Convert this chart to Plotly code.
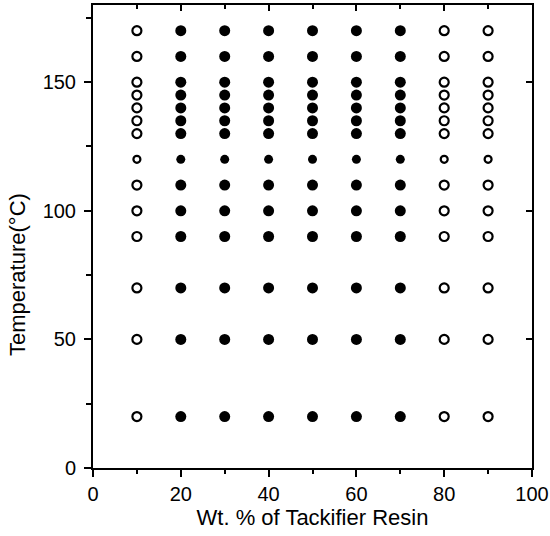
import plotly.graph_objects as go

temps = [20, 50, 70, 90, 100, 110, 120, 130, 135, 140, 145, 150, 160, 170]
filled_wt = [20, 30, 40, 50, 60, 70]
open_wt = [10, 80, 90]
x_ticks = [0, 20, 40, 60, 80, 100]
y_ticks = [0, 50, 100, 150]

fx, fy, ox, oy = [], [], [], []
for w in filled_wt:
    for t in temps:
        fx.append(w); fy.append(t)
for w in open_wt:
    for t in temps:
        ox.append(w); oy.append(t)

fsize = [9 if t == 120 else 11 for t in fy]
osize = [7 if t == 120 else 9 for t in oy]

fig = go.Figure()
fig.add_trace(go.Scatter(x=fx, y=fy, mode="markers",
                         marker=dict(symbol="circle", size=fsize, color="black", opacity=1,
                                     line=dict(width=0)),
                         showlegend=False))
fig.add_trace(go.Scatter(x=ox, y=oy, mode="markers",
                         marker=dict(symbol="circle-open", size=osize, color="black", opacity=1,
                                     line=dict(width=2.2, color="black")),
                         showlegend=False))
fig.add_trace(go.Scatter(x=[None], y=[None], xaxis="x2", yaxis="y2", showlegend=False))

font = dict(family="Liberation Sans, Arial, sans-serif", color="black")
fig.update_layout(
    width=550, height=536,
    margin=dict(l=93, r=18, t=5, b=68),
    paper_bgcolor="white", plot_bgcolor="white",
    font=font,
    xaxis=dict(range=[0, 100], tickvals=x_ticks, ticks="outside", ticklen=7, tickwidth=2,
               tickcolor="black", automargin=False,
               showline=True, linewidth=2, linecolor="black", showgrid=False, zeroline=False,
               tickfont=dict(size=20),
               minor=dict(dtick=10, ticks="outside", ticklen=4, tickwidth=1.5, tickcolor="black"),
               title=dict(text="Wt. % of Tackifier Resin", font=dict(size=22), standoff=4)),
    yaxis=dict(range=[0, 180], tickvals=y_ticks, ticks="outside", ticklen=7, tickwidth=2,
               tickcolor="black", automargin=False, ticklabelstandoff=4,
               showline=True, linewidth=2, linecolor="black", showgrid=False, zeroline=False,
               tickfont=dict(size=20),
               minor=dict(tickvals=[25, 75, 125, 175], ticks="outside", ticklen=5, tickwidth=1.5, tickcolor="black")),
    xaxis2=dict(range=[0, 100], overlaying="x", side="top", tickvals=x_ticks, ticks="inside",
                ticklen=6, tickwidth=2, tickcolor="black", showticklabels=False, showline=True, linewidth=2,
                linecolor="black", showgrid=False, zeroline=False, automargin=False,
                minor=dict(dtick=10, ticks="inside", ticklen=4, tickwidth=1.5, tickcolor="black")),
    yaxis2=dict(range=[0, 180], overlaying="y", side="right", tickvals=y_ticks, ticks="inside",
                ticklen=6, tickwidth=2, tickcolor="black", showticklabels=False, showline=True, linewidth=2,
                linecolor="black", showgrid=False, zeroline=False, automargin=False),
    annotations=[dict(text="Temperature(°C)", textangle=-90, showarrow=False,
                      xref="paper", yref="paper", x=(17 - 93) / 439, y=(468 - 275) / 463,
                      xanchor="center", yanchor="middle", font=dict(size=22))],
)
fig.write_html("out.html")
